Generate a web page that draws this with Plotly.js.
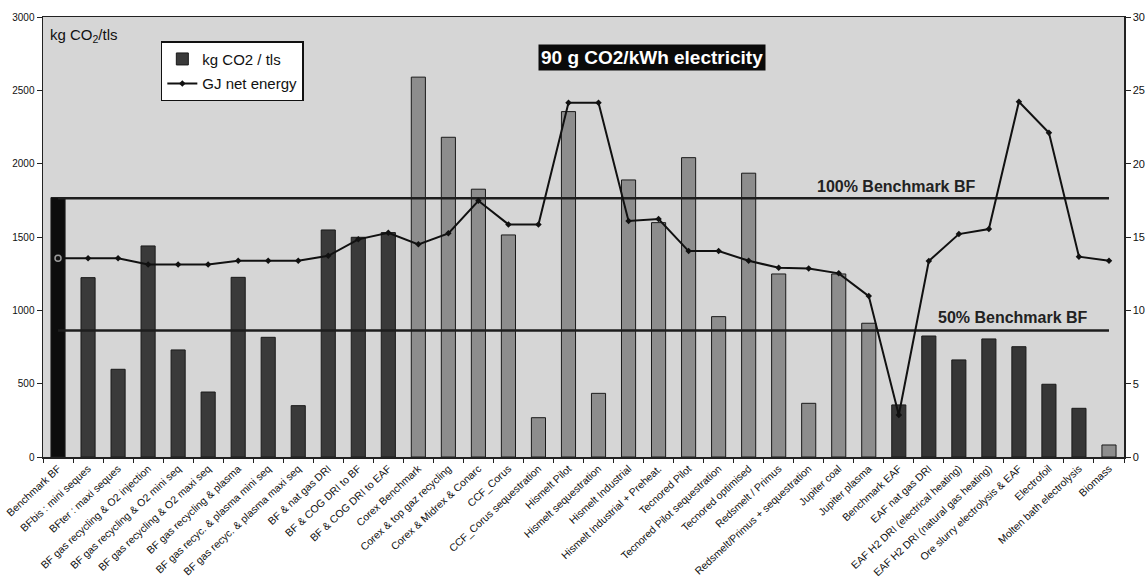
<!DOCTYPE html>
<html>
<head>
<meta charset="utf-8">
<script src="https://cdn.plot.ly/plotly-3.0.1.min.js"></script>
<style>html,body{margin:0;padding:0;background:#fff;}#chart{width:1145px;height:578px;}</style>
</head>
<body>
<div id="chart"></div>
<script>
const categories = [
  "Benchmark BF", "BFbis : mini seques", "BFter : maxi seques",
  "BF gas recycling & O2 injection", "BF gas recycling & O2 mini seq", "BF gas recycling & O2 maxi seq",
  "BF gas recycling & plasma", "BF gas recyc. & plasma mini seq", "BF gas recyc. & plasma maxi seq",
  "BF & nat gas DRI", "BF & COG DRI to BF", "BF & COG DRI to EAF",
  "Corex Benchmark", "Corex & top gaz recycling", "Corex & Midrex & Conarc",
  "CCF_Corus", "CCF_Corus sequestration", "Hismelt Pilot", "Hismelt sequestration",
  "Hismelt Industrial", "Hismelt Industrial + Preheat.", "Tecnored Pilot",
  "Tecnored Pilot sequestration", "Tecnored optimised", "Redsmelt / Primus",
  "Redsmelt/Primus + sequestration", "Jupiter coal", "Jupiter plasma",
  "Benchmark EAF", "EAF nat gas DRI", "EAF H2 DRI (electrical heating)",
  "EAF H2 DRI (natural gas heating)", "Ore slurry electrolysis & EAF",
  "Electrofoil", "Molten bath electrolysis", "Biomass"
];
const co2PerTls = [1769, 1223, 598, 1439, 730, 443, 1225, 816, 350, 1548, 1498, 1530,
  2590, 2180, 1826, 1514, 268, 2355, 434, 1889, 1598, 2041, 957, 1935, 1248, 366, 1248, 912,
  355, 825, 662, 805, 752, 496, 332, 82];
const gjNetEnergy = [13.55, 13.55, 13.55, 13.13, 13.13, 13.13, 13.38, 13.38, 13.38, 13.72, 14.84, 15.29,
  14.5, 15.25, 17.47, 15.86, 15.86, 24.15, 24.15, 16.09, 16.22, 14.04, 14.04, 13.38, 12.9, 12.86, 12.52, 10.97,
  2.86, 13.36, 15.2, 15.54, 24.22, 22.11, 13.66, 13.38];
const processGroup = ["benchmark",
  "bf","bf","bf","bf","bf","bf","bf","bf","bf","bf","bf",
  "smelting","smelting","smelting","smelting","smelting","smelting","smelting","smelting",
  "smelting","smelting","smelting","smelting","smelting","smelting","smelting","smelting",
  "eaf","eaf","eaf","eaf","eaf","eaf","eaf","biomass"];
const benchmark100 = 1765;
const benchmark50 = 862;

const groupColor = {bf: "#3a3a3a", benchmark: "#0d0d0d", smelting: "#8d8d8d", eaf: "#363636", biomass: "#8d8d8d"};
const font = "Arial, 'Liberation Sans', sans-serif";

const traces = [];
Object.keys(groupColor).forEach((g, gi) => {
  const idx = processGroup.map((p, i) => p === g ? i : -1).filter(i => i >= 0);
  traces.push({
    type: "bar", x: idx.map(i => categories[i]), y: idx.map(i => co2PerTls[i]),
    name: "kg CO2 / tls", legendgroup: "co2", showlegend: gi === 0,
    marker: {color: groupColor[g], line: {color: "#1a1a1a", width: 1}},
    yaxis: "y"
  });
});
[benchmark100, benchmark50].forEach(b => {
  traces.push({
    type: "scatter", mode: "lines", x: [categories[0], categories[categories.length - 1]],
    y: [b, b], line: {color: "#1e1e1e", width: 2.5}, showlegend: false, hoverinfo: "skip"
  });
});
traces.push({
  type: "scatter", mode: "lines+markers", x: categories, y: gjNetEnergy, name: "GJ net energy",
  legendgroup: "gj",
  line: {color: "#111", width: 2},
  marker: {color: "#111", size: 5, symbol: "diamond"},
  yaxis: "y2"
});
traces.push({
  type: "scatter", mode: "markers", x: [categories[0]], y: [gjNetEnergy[0]], showlegend: false,
  marker: {color: "#9a9a9a", size: 6, symbol: "circle-open", line: {color: "#9a9a9a", width: 1.5}},
  yaxis: "y2", hoverinfo: "skip"
});

const layout = {
  width: 1145, height: 578,
  margin: {l: 43, r: 21, t: 17, b: 121},
  paper_bgcolor: "#ffffff", plot_bgcolor: "#d6d6d6",
  font: {family: font, color: "#111", size: 10},
  barmode: "overlay",
  bargap: 0.53,
  showlegend: true,
  legend: {
    x: 0.109, y: 0.945, xanchor: "left", yanchor: "top",
    bgcolor: "#ffffff", bordercolor: "#111", borderwidth: 1.5,
    traceorder: "grouped", tracegroupgap: 2,
    font: {family: font, size: 15, color: "#111"}
  },
  xaxis: {
    type: "category", categoryorder: "array", categoryarray: categories,
    range: [-0.5, categories.length - 0.5],
    tickangle: -43, automargin: false,
    showline: true, linecolor: "#222", linewidth: 1.5, mirror: true,
    ticks: "outside", ticklen: 4, tickcolor: "#222", tickson: "boundaries",
    showgrid: false, tickfont: {family: font, size: 10.5, color: "#111"}
  },
  yaxis: {
    range: [0, 3000], dtick: 500, showgrid: false, zeroline: false,
    showline: true, linecolor: "#222", linewidth: 1.5,
    ticks: "outside", ticklen: 5, tickcolor: "#222",
    tickfont: {family: font, size: 10, color: "#111"}, automargin: false
  },
  yaxis2: {
    range: [0, 30], dtick: 5, overlaying: "y", side: "right", showgrid: false, zeroline: false,
    showline: true, linecolor: "#222", linewidth: 1.5,
    ticks: "outside", ticklen: 5, tickcolor: "#222",
    tickfont: {family: font, size: 11, color: "#111"}, automargin: false
  },
  annotations: [
    {
      xref: "paper", yref: "paper", x: 0.005, y: 0.985, xanchor: "left", yanchor: "top",
      text: "kg CO<sub>2</sub>/tls", showarrow: false, font: {family: font, size: 15, color: "#111"}
    },
    {
      xref: "paper", yref: "paper", x: 0.5635, y: 0.908, xanchor: "center", yanchor: "middle",
      text: "<b>90 g CO2/kWh electricity</b>", showarrow: false,
      bgcolor: "#0a0a0a", borderpad: 2, font: {family: font, size: 19, color: "#ffffff"}
    },
    {
      xref: "paper", yref: "paper", x: 0.790, y: 0.614, xanchor: "center", yanchor: "middle",
      text: "<b>100% Benchmark BF</b>", showarrow: false, font: {family: font, size: 16, color: "#222"}
    },
    {
      xref: "paper", yref: "paper", x: 0.897, y: 0.316, xanchor: "center", yanchor: "middle",
      text: "<b>50% Benchmark BF</b>", showarrow: false, font: {family: font, size: 16, color: "#222"}
    }
  ]
};

Plotly.newPlot("chart", traces, layout, {displayModeBar: false, staticPlot: true});
</script>
</body>
</html>
